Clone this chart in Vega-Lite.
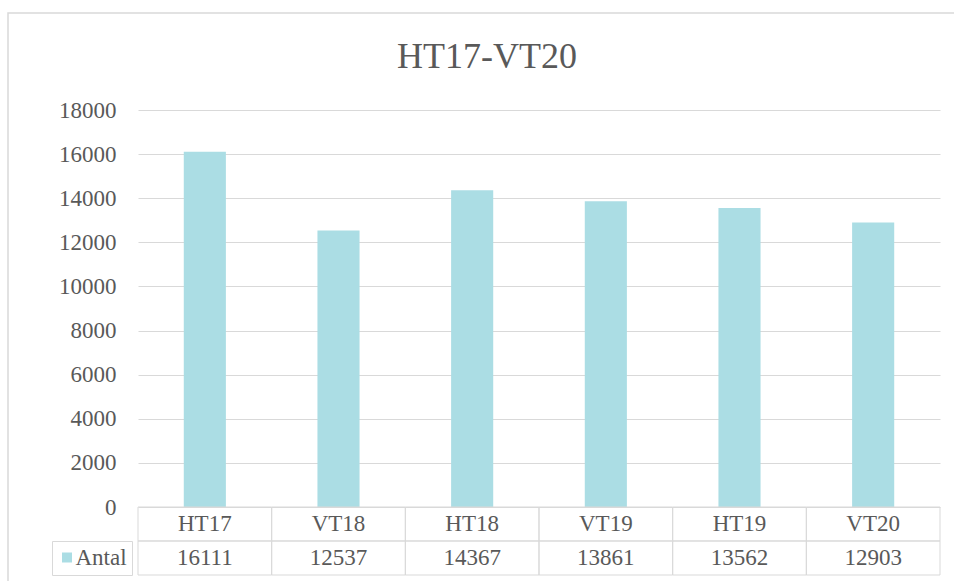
{
  "$schema": "https://vega.github.io/schema/vega-lite/v6.json",
  "width": 950,
  "height": 572,
  "autosize": {"type": "none"},
  "padding": {"left": 8, "top": 13, "right": -4, "bottom": -4},
  "config": {
    "view": {"stroke": "#d9d9d9", "strokeWidth": 1.5},
    "font": "Liberation Serif"
  },
  "title": {
    "text": "HT17-VT20",
    "font": "Liberation Serif",
    "fontSize": 36,
    "fontWeight": "normal",
    "color": "#595959",
    "anchor": "middle",
    "frame": "group",
    "offset": -91,
    "baseline": "alphabetic",
    "dx": 4
  },
  "data": {
    "values": [
      {"term": "HT17", "Antal": 16111, "serie": "Antal"},
      {"term": "VT18", "Antal": 12537, "serie": "Antal"},
      {"term": "HT18", "Antal": 14367, "serie": "Antal"},
      {"term": "VT19", "Antal": 13861, "serie": "Antal"},
      {"term": "HT19", "Antal": 13562, "serie": "Antal"},
      {"term": "VT20", "Antal": 12903, "serie": "Antal"}
    ]
  },
  "encoding": {
    "x": {
      "field": "term",
      "type": "nominal",
      "sort": null,
      "axis": null,
      "scale": {"range": [130, 932], "paddingInner": 0, "paddingOuter": 0}
    }
  },
  "layer": [
    {
      "mark": {"type": "bar", "width": {"band": 0.315}},
      "encoding": {
        "y": {
          "field": "Antal",
          "type": "quantitative",
          "scale": {"domain": [0, 18000], "range": [494, 97], "nice": false},
          "axis": {
            "title": null,
            "values": [0, 2000, 4000, 6000, 8000, 10000, 12000, 14000, 16000, 18000],
            "format": "d",
            "offset": -130,
            "domain": false,
            "ticks": false,
            "tickSize": 0,
            "labelPadding": 22,
            "labelFont": "Liberation Serif",
            "labelFontSize": 23,
            "labelColor": "#595959",
            "grid": true,
            "gridColor": "#d9d9d9",
            "gridWidth": 1
          }
        },
        "color": {
          "field": "serie",
          "type": "nominal",
          "scale": {"range": ["#abdde4"]},
          "legend": {
            "orient": "none",
            "legendX": 44,
            "legendY": 528,
            "title": null,
            "symbolType": "square",
            "symbolSize": 100,
            "symbolStrokeWidth": 0,
            "symbolOffset": -1.5,
            "labelOffset": -3,
            "labelFont": "Liberation Serif",
            "labelFontSize": 23,
            "labelColor": "#595959",
            "padding": 5,
            "strokeColor": "#d9d9d9",
            "labelExpr": "datum.label + '\u00a0'"
          }
        }
      }
    },
    {
      "mark": {"type": "rect", "fill": "white", "fillOpacity": 0, "stroke": "#d9d9d9", "strokeWidth": 1},
      "encoding": {
        "y": {"datum": 0, "type": "quantitative"},
        "y2": {"datum": -1541.6}
      }
    },
    {
      "mark": {"type": "rect", "fill": "white", "fillOpacity": 0, "stroke": "#d9d9d9", "strokeWidth": 1},
      "encoding": {
        "y": {"datum": -1541.6, "type": "quantitative"},
        "y2": {"datum": -3083.2}
      }
    },
    {
      "mark": {"type": "text", "font": "Liberation Serif", "fontSize": 23, "color": "#595959", "baseline": "middle", "align": "center"},
      "encoding": {
        "y": {"datum": -770.8, "type": "quantitative"},
        "text": {"field": "term"}
      }
    },
    {
      "mark": {"type": "text", "font": "Liberation Serif", "fontSize": 23, "color": "#595959", "baseline": "middle", "align": "center"},
      "encoding": {
        "y": {"datum": -2312.4, "type": "quantitative"},
        "text": {"field": "Antal", "type": "quantitative", "format": "d"}
      }
    }
  ]
}
